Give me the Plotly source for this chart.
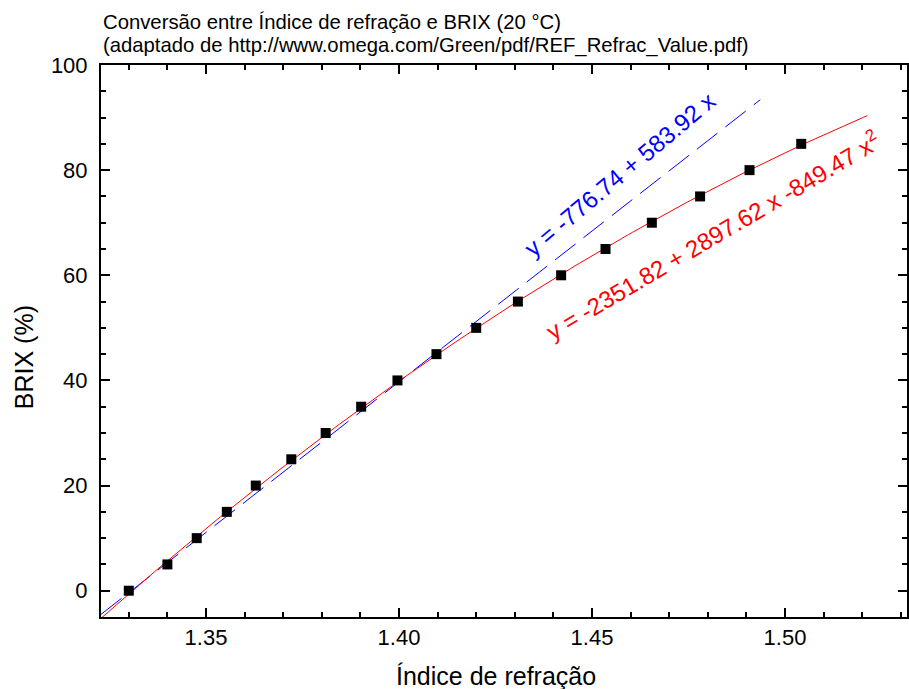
import numpy as np
import plotly.graph_objects as go

# Data
brix = [0, 5, 10, 15, 20, 25, 30, 35, 40, 45, 50, 55, 60, 65, 70, 75, 80, 85]
refr_index = [1.3300, 1.3400, 1.3476, 1.3554, 1.3629, 1.3721, 1.3810, 1.3902, 1.3996,
              1.4097, 1.4200, 1.4308, 1.4420, 1.4535, 1.4655, 1.4780, 1.4908, 1.5042]

# Linear fit line: end points
lin_x = [1.3228, 1.4936]
lin_y = [-4.5, 93.4]

# Quadratic fit coefficients (as printed on the chart) and drawn span
quad_a, quad_b, quad_c = -2351.82, 2897.62, -849.47
quad_x_span = [1.3228, 1.5213]

x_ticks = [1.35, 1.40, 1.45, 1.50]
y_ticks = [0, 20, 40, 60, 80, 100]

x_range = [1.3228, 1.5316]
y_range = [-5, 100]

title1 = "Conversão entre Índice de refração e BRIX (20 °C)"
title2 = "(adaptado de http://www.omega.com/Green/pdf/REF_Refrac_Value.pdf)"
lin_label = "y = -776.74 + 583.92 x"
quad_label = "y = -2351.82 + 2897.62 x -849.47 x<sup>2</sup>"

FONT = "Liberation Sans, Arial, sans-serif"

quad_x = np.linspace(quad_x_span[0], quad_x_span[1], 200)
quad_y = quad_a + quad_b * quad_x + quad_c * quad_x ** 2

fig = go.Figure()
fig.add_trace(go.Scatter(x=lin_x, y=lin_y, mode="lines",
                         line=dict(color="#0000FF", width=1, dash="26px,10px"),
                         showlegend=False, hoverinfo="skip"))
fig.add_trace(go.Scatter(x=quad_x, y=quad_y, mode="lines",
                         line=dict(color="#FF0000", width=1),
                         showlegend=False, hoverinfo="skip"))
fig.add_trace(go.Scatter(x=refr_index, y=brix, mode="markers",
                         marker=dict(symbol="square", size=10, color="black"),
                         showlegend=False))

axis_common = dict(
    showgrid=False, zeroline=False, showline=True, linecolor="black", linewidth=2,
    ticks="inside", ticklen=9, tickwidth=2, tickcolor="black", mirror="allticks",
    tickfont=dict(family=FONT, size=22, color="black"),
)

fig.update_xaxes(range=x_range, tickvals=x_ticks, tickformat=".2f",
                 minor=dict(dtick=0.01, tick0=1.35, ticks="inside", ticklen=5,
                            tickwidth=2, tickcolor="black", showgrid=False),
                 **axis_common)
fig.update_yaxes(range=y_range, tickvals=y_ticks, ticklabelstandoff=7,
                 minor=dict(dtick=5, tick0=0, ticks="inside", ticklen=5,
                            tickwidth=2, tickcolor="black", showgrid=False),
                 **axis_common)

H_PLOT = 617 - 65
def py(p):
    return (617 - p) / H_PLOT

annotations = [
    dict(text=title1, xref="paper", yref="paper", x=0.0, y=py(21.5), xanchor="left",
         yanchor="middle", showarrow=False, font=dict(family=FONT, size=20.3, color="black")),
    dict(text=title2, xref="paper", yref="paper", x=0.0, y=py(45.5), xanchor="left",
         yanchor="middle", showarrow=False, font=dict(family=FONT, size=20.3, color="black")),
    dict(text="Índice de refração", xref="x", yref="paper", x=1.4252, y=py(676),
         xanchor="center", yanchor="middle", showarrow=False,
         font=dict(family=FONT, size=25, color="black")),
    dict(text="BRIX (%)", xref="paper", yref="paper", x=(24 - 101) / 808, y=py(357),
         xanchor="center", yanchor="middle", showarrow=False, textangle=-90,
         font=dict(family=FONT, size=25, color="black")),
    dict(text=lin_label, xref="x", yref="y", x=1.4572, y=79.1, xanchor="center",
         yanchor="middle", showarrow=False, textangle=-40,
         font=dict(family=FONT, size=24, color="#0000FF")),
    dict(text=quad_label, xref="x", yref="y", x=1.4812, y=67.7, xanchor="center",
         yanchor="middle", showarrow=False, textangle=-30.5,
         font=dict(family=FONT, size=24, color="#FF0000")),
]

fig.update_layout(
    width=909, height=689,
    margin=dict(l=101, r=0, t=65, b=72),
    paper_bgcolor="white", plot_bgcolor="white",
    font=dict(family=FONT, color="black"),
    annotations=annotations,
)

fig.write_html("out.html", config={"displayModeBar": False},
               post_script="document.body.style.margin='0';document.body.style.overflow='hidden';")
